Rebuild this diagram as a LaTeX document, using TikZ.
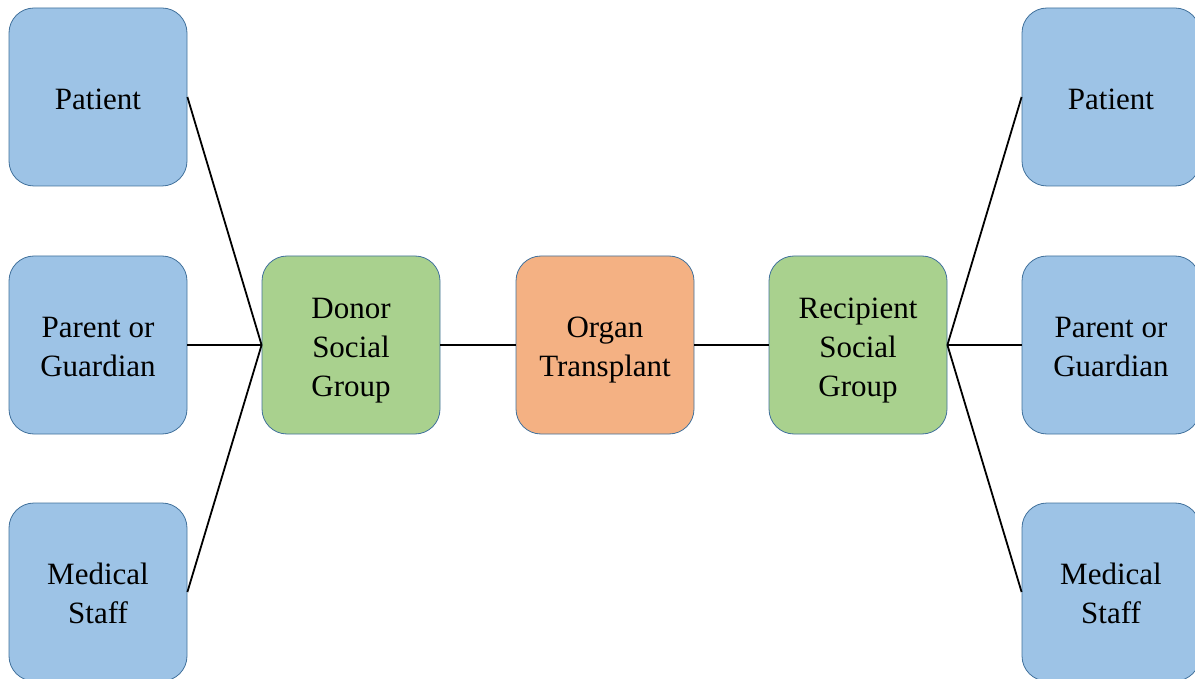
\documentclass[tikz,border=0pt]{standalone}
\usepackage{fontspec}
\setmainfont{Liberation Serif}
\definecolor{boxblue}{HTML}{9DC3E6}
\definecolor{boxgreen}{HTML}{A9D18E}
\definecolor{boxorange}{HTML}{F4B183}
\definecolor{boxline}{HTML}{41719C}
\newcommand\boxtext[1]{\setlength{\tabcolsep}{0pt}\raisebox{-4.5pt}[\height][\depth]{\begin{tabular}{c}#1\end{tabular}}}
\begin{document}
\begin{tikzpicture}[x=1pt,y=-1pt,every node/.style={rectangle,rounded corners=25pt,draw=boxline,line width=0.8pt,minimum size=178pt,inner sep=0pt,font=\fontsize{31}{39}\selectfont}]
        \useasboundingbox (0,0) rectangle (1195,679);

        \node[fill=boxblue] at (98,97)   (lpat) {\boxtext{Patient}};
        \node[fill=boxblue] at (98,345)  (lpar) {\boxtext{Parent or\\Guardian}};
        \node[fill=boxblue] at (98,592)  (lmed) {\boxtext{Medical\\Staff}};

        \node[fill=boxgreen] at (351,345)  (donor) {\boxtext{Donor\\Social\\Group}};
        \node[fill=boxorange] at (605,345) (organ) {\boxtext{Organ\\Transplant}};
        \node[fill=boxgreen] at (858,345)  (recip) {\boxtext{Recipient\\Social\\Group}};

        \node[fill=boxblue] at (1111,97)  (rpat) {\boxtext{Patient}};
        \node[fill=boxblue] at (1111,345) (rpar) {\boxtext{Parent or\\Guardian}};
        \node[fill=boxblue] at (1111,592) (rmed) {\boxtext{Medical\\Staff}};

        \draw[line width=1.8pt] (lpat.east) -- (donor.west);
        \draw[line width=1.8pt] (lpar.east) -- (donor.west);
        \draw[line width=1.8pt] (lmed.east) -- (donor.west);
        \draw[line width=1.8pt] (donor) -- (organ);
        \draw[line width=1.8pt] (organ) -- (recip);
        \draw[line width=1.8pt] (recip.east) -- (rpat.west);
        \draw[line width=1.8pt] (recip.east) -- (rpar.west);
        \draw[line width=1.8pt] (recip.east) -- (rmed.west);
    \end{tikzpicture}
\end{document}
